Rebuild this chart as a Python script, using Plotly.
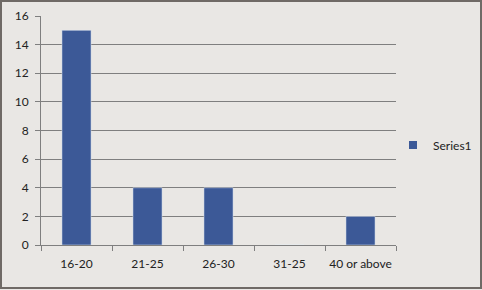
import plotly.graph_objects as go

categories = ["16-20", "21-25", "26-30", "31-25", "40 or above"]
values = [15, 4, 4, 0, 2]
series_name = "Series1"
y_ticks = [0, 2, 4, 6, 8, 10, 12, 14, 16]

bar_color = "#3c5997"
bg = "#e9e7e4"
grid = "#7f7f7f"
font = dict(family="Lato, Open Sans, sans-serif", size=12, color="#222222")

fig = go.Figure()
fig.add_trace(go.Bar(x=categories, y=values, name=series_name, marker_color=bar_color,
                     width=0.41, showlegend=False))
fig.add_trace(go.Scatter(x=[None], y=[None], mode="markers", name=series_name,
                         marker=dict(symbol="square", size=8, color=bar_color)))

fig.update_layout(
    width=482, height=290,
    margin=dict(l=41, r=86, t=16, b=45, autoexpand=False),
    paper_bgcolor=bg, plot_bgcolor=bg,
    font=font,
    legend=dict(xref="container", yref="container", x=393/482, y=0.5,
                xanchor="left", yanchor="middle",
                bgcolor="rgba(0,0,0,0)", font=font, itemwidth=30),
    xaxis=dict(type="category", showgrid=False, showline=True, linecolor=grid, linewidth=1,
               ticks="outside", tickson="boundaries", ticklen=5, tickcolor=grid,
               ticklabelstandoff=8, tickangle=0, automargin=False),
    yaxis=dict(range=[0, 16], tickvals=y_ticks, showgrid=True, gridcolor=grid, gridwidth=1,
               showline=True, linecolor=grid, linewidth=1, ticks="outside", ticklen=5,
               tickcolor=grid, zeroline=False, ticklabelstandoff=4, automargin=False),
    shapes=[dict(type="rect", xref="paper", yref="paper", x0=-40/355, x1=1+85/355,
                 y0=-43/229, y1=1+15/229, line=dict(color="#6f6a66", width=2))],
)

fig.write_html("out.html")
